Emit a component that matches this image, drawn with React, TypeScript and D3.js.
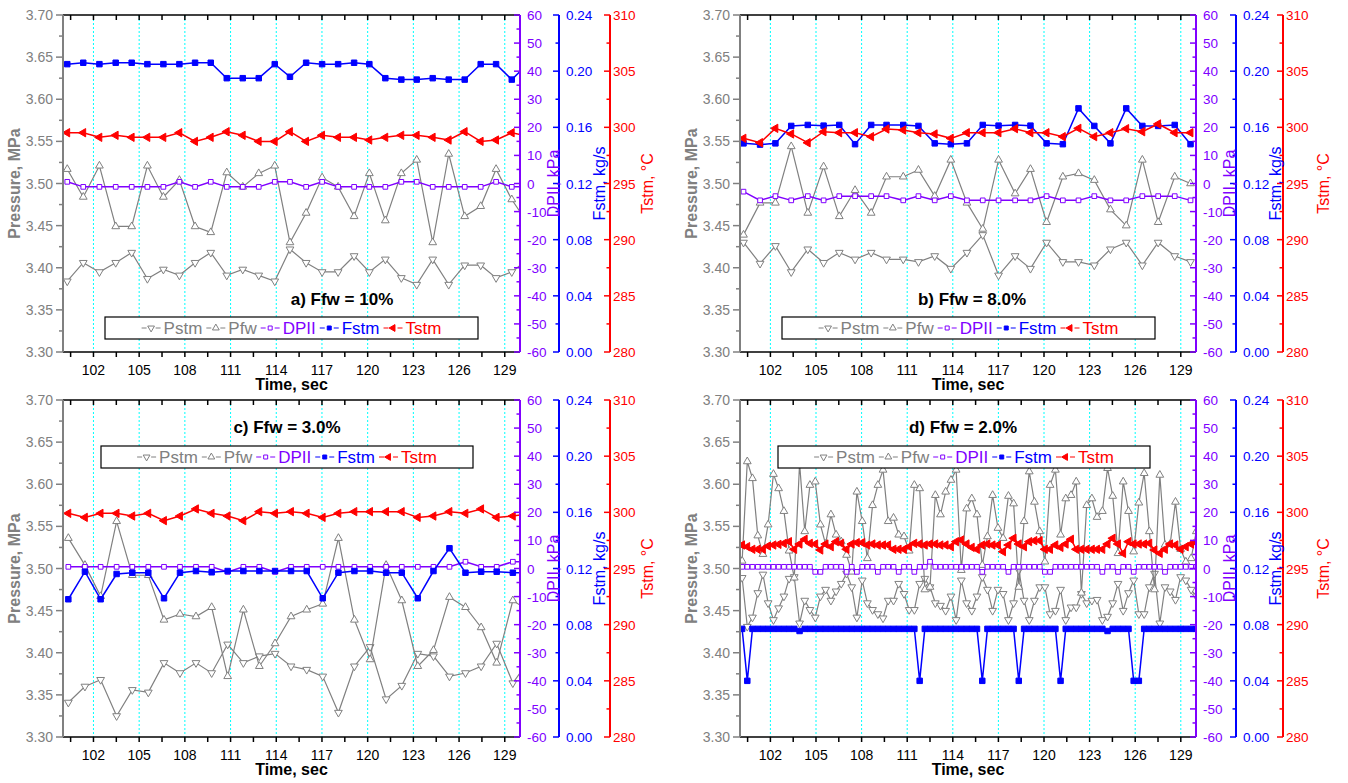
import * as d3 from 'd3';
import React, { useEffect, useRef } from 'react';

// ---- a) Ffw = 10% ----
const timeA = [100.28, 101.33, 102.39, 103.46, 104.51, 105.54, 106.59, 107.64, 108.67, 109.7, 110.75, 111.8, 112.85, 113.9, 114.9, 115.96, 117.01, 118.06, 119.11, 120.11, 121.16, 122.21, 123.22, 124.27, 125.32, 126.37, 127.42, 128.43, 129.46, 130.5];
const pstmA = [3.384, 3.406, 3.395, 3.406, 3.418, 3.387, 3.398, 3.391, 3.406, 3.418, 3.391, 3.398, 3.391, 3.384, 3.422, 3.406, 3.395, 3.395, 3.414, 3.395, 3.41, 3.388, 3.38, 3.41, 3.38, 3.403, 3.403, 3.388, 3.395, 3.41];
const pfwA = [3.517, 3.484, 3.521, 3.449, 3.449, 3.521, 3.484, 3.504, 3.449, 3.442, 3.513, 3.496, 3.512, 3.521, 3.43, 3.465, 3.507, 3.496, 3.461, 3.512, 3.456, 3.512, 3.528, 3.43, 3.535, 3.461, 3.473, 3.517, 3.481, 3.453];
const dpiiA = [0.6, -1.2, -1.2, -1.2, -1.2, -1.2, -1.2, 0.6, -1.2, 0.6, -1.2, -1.2, -1.2, 0.6, 0.6, -1.2, 0.6, -1.2, -1.2, -1.2, -1.2, 0.6, 0.6, -1.2, -1.2, -1.2, -1.2, 0.6, -1.2, -1.2];
const fstmA = [0.205, 0.206, 0.205, 0.206, 0.206, 0.205, 0.205, 0.205, 0.206, 0.206, 0.195, 0.195, 0.195, 0.205, 0.196, 0.206, 0.205, 0.205, 0.206, 0.205, 0.195, 0.194, 0.194, 0.195, 0.194, 0.194, 0.205, 0.205, 0.194, 0.205];
const tstmA = [299.52, 299.52, 299.11, 299.29, 299.11, 299.11, 299.11, 299.52, 298.75, 299.11, 299.61, 299.29, 298.75, 298.75, 299.61, 298.75, 299.29, 299.11, 299.11, 298.87, 299.11, 299.29, 299.29, 299.11, 298.87, 299.61, 298.75, 298.87, 299.52, 299.2];

// ---- b) Ffw = 8.0% ----
const timeB = [100.23, 101.32, 102.33, 103.37, 104.46, 105.5, 106.53, 107.57, 108.63, 109.64, 110.74, 111.74, 112.81, 113.87, 114.93, 115.97, 117.01, 118.1, 119.11, 120.17, 121.24, 122.27, 123.31, 124.37, 125.41, 126.47, 127.51, 128.6, 129.64];
const pstmB = [3.43, 3.405, 3.426, 3.395, 3.422, 3.406, 3.418, 3.41, 3.418, 3.41, 3.41, 3.407, 3.414, 3.399, 3.418, 3.439, 3.391, 3.414, 3.399, 3.43, 3.407, 3.407, 3.403, 3.422, 3.43, 3.403, 3.43, 3.414, 3.407];
const pfwB = [3.439, 3.477, 3.477, 3.544, 3.465, 3.52, 3.461, 3.492, 3.465, 3.508, 3.508, 3.516, 3.485, 3.528, 3.477, 3.446, 3.528, 3.488, 3.517, 3.454, 3.508, 3.512, 3.504, 3.469, 3.45, 3.528, 3.454, 3.508, 3.5];
const dpiiB = [-2.9, -6.0, -4.5, -6.0, -4.5, -6.0, -4.5, -4.5, -4.5, -4.5, -6.0, -4.5, -6.0, -4.5, -6.0, -6.0, -6.0, -6.0, -6.0, -4.5, -6.0, -6.0, -4.5, -6.0, -6.0, -4.5, -4.5, -4.5, -6.0];
const fstmB = [0.1486, 0.1477, 0.1486, 0.161, 0.1617, 0.1612, 0.1617, 0.148, 0.1617, 0.1617, 0.1617, 0.161, 0.1486, 0.148, 0.1486, 0.1617, 0.1612, 0.1617, 0.1612, 0.1486, 0.148, 0.1735, 0.161, 0.1486, 0.1735, 0.161, 0.161, 0.1617, 0.148];
const tstmB = [299.02, 298.63, 299.91, 299.41, 298.63, 299.61, 299.52, 299.52, 299.17, 299.85, 299.76, 299.52, 299.41, 299.02, 299.52, 299.52, 299.52, 299.88, 299.52, 299.52, 299.17, 299.91, 299.17, 299.52, 299.88, 299.61, 300.3, 299.52, 299.52];

// ---- c) Ffw = 3.0% ----
const timeC = [100.35, 101.44, 102.47, 103.52, 104.55, 105.6, 106.63, 107.68, 108.73, 109.76, 110.81, 111.84, 112.89, 113.92, 114.97, 116.0, 117.05, 118.08, 119.13, 120.16, 121.21, 122.24, 123.29, 124.32, 125.37, 126.42, 127.45, 128.47, 129.53, 130.56];
const pstmC = [3.341, 3.36, 3.368, 3.325, 3.356, 3.353, 3.388, 3.376, 3.388, 3.376, 3.41, 3.388, 3.396, 3.399, 3.384, 3.38, 3.372, 3.329, 3.384, 3.407, 3.345, 3.361, 3.399, 3.396, 3.372, 3.376, 3.384, 3.411, 3.364, 3.39];
const pfwC = [3.536, 3.504, 3.467, 3.556, 3.492, 3.492, 3.439, 3.446, 3.443, 3.454, 3.372, 3.451, 3.384, 3.411, 3.443, 3.451, 3.458, 3.536, 3.439, 3.392, 3.504, 3.462, 3.384, 3.403, 3.466, 3.454, 3.43, 3.388, 3.462, 3.45];
const dpiiC = [0.6, 0.6, 0.6, 0.6, 0.6, 0.6, 0.6, 0.6, 0.6, 0.6, -1.2, 0.6, 0.6, -1.2, 0.6, 0.6, 0.6, 0.6, 0.6, 0.6, 0.6, 0.6, 0.6, 0.6, 0.6, 2.4, 0.6, 0.6, 2.4, 2.4];
const fstmC = [0.0981, 0.1177, 0.0981, 0.1161, 0.117, 0.117, 0.0988, 0.117, 0.1182, 0.1173, 0.1182, 0.1182, 0.1182, 0.1182, 0.1182, 0.1182, 0.0988, 0.117, 0.1182, 0.1182, 0.117, 0.117, 0.0988, 0.1182, 0.1344, 0.117, 0.1177, 0.1177, 0.117, 0.117];
const tstmC = [299.91, 299.55, 299.91, 299.91, 299.67, 299.91, 299.26, 299.67, 300.3, 299.91, 299.67, 299.26, 300.06, 299.91, 300.06, 299.91, 299.55, 299.91, 300.06, 300.06, 300.06, 300.06, 299.55, 299.67, 300.06, 299.91, 300.3, 299.55, 299.67, 299.85];

// ---- d) Ffw = 2.0% ----
const timeD = [100.14, 100.48, 100.82, 101.17, 101.51, 101.85, 102.2, 102.54, 102.89, 103.23, 103.57, 103.92, 104.26, 104.6, 104.95, 105.29, 105.63, 105.98, 106.32, 106.66, 107.01, 107.35, 107.69, 108.04, 108.38, 108.72, 109.07, 109.41, 109.75, 110.1, 110.44, 110.79, 111.13, 111.47, 111.82, 112.16, 112.5, 112.85, 113.19, 113.53, 113.88, 114.22, 114.56, 114.91, 115.25, 115.59, 115.94, 116.28, 116.62, 116.97, 117.31, 117.66, 118.0, 118.34, 118.69, 119.03, 119.37, 119.72, 120.06, 120.4, 120.75, 121.09, 121.43, 121.78, 122.12, 122.46, 122.81, 123.15, 123.49, 123.84, 124.18, 124.52, 124.87, 125.21, 125.56, 125.9, 126.24, 126.59, 126.93, 127.27, 127.62, 127.96, 128.3, 128.65, 128.99, 129.33, 129.68, 130.02];
const pstmD = [3.489, 3.431, 3.442, 3.471, 3.493, 3.459, 3.439, 3.453, 3.467, 3.488, 3.49, 3.435, 3.462, 3.451, 3.442, 3.467, 3.475, 3.462, 3.473, 3.482, 3.494, 3.478, 3.442, 3.486, 3.459, 3.451, 3.446, 3.441, 3.462, 3.462, 3.482, 3.47, 3.451, 3.451, 3.482, 3.488, 3.478, 3.459, 3.456, 3.45, 3.467, 3.439, 3.486, 3.459, 3.45, 3.467, 3.49, 3.475, 3.45, 3.475, 3.47, 3.439, 3.459, 3.498, 3.462, 3.439, 3.462, 3.478, 3.478, 3.446, 3.45, 3.475, 3.439, 3.454, 3.454, 3.47, 3.459, 3.462, 3.463, 3.439, 3.443, 3.459, 3.482, 3.45, 3.471, 3.486, 3.446, 3.446, 3.478, 3.494, 3.435, 3.478, 3.473, 3.463, 3.49, 3.486, 3.475, 3.467];
const pfwD = [3.509, 3.627, 3.607, 3.539, 3.517, 3.552, 3.612, 3.595, 3.568, 3.521, 3.489, 3.625, 3.544, 3.599, 3.603, 3.552, 3.529, 3.564, 3.54, 3.532, 3.516, 3.496, 3.591, 3.556, 3.512, 3.575, 3.599, 3.617, 3.556, 3.56, 3.54, 3.538, 3.521, 3.599, 3.595, 3.475, 3.478, 3.587, 3.564, 3.591, 3.605, 3.617, 3.498, 3.571, 3.583, 3.564, 3.504, 3.538, 3.587, 3.548, 3.536, 3.586, 3.577, 3.478, 3.556, 3.615, 3.579, 3.544, 3.508, 3.599, 3.617, 3.54, 3.583, 3.587, 3.603, 3.471, 3.575, 3.583, 3.561, 3.568, 3.619, 3.586, 3.518, 3.603, 3.568, 3.52, 3.578, 3.613, 3.544, 3.475, 3.611, 3.528, 3.529, 3.579, 3.523, 3.508, 3.512, 3.544];
const dpiiD = [0.6, 0.6, 0.6, 0.6, 0.6, 0.6, 0.6, 0.6, 0.6, 0.6, 0.6, 0.6, 0.6, 0.6, -1.2, -1.2, 0.6, 0.6, 0.6, 0.6, -1.2, 0.6, -1.2, 0.6, 0.6, 0.6, -1.2, 0.6, 0.6, 0.6, -1.2, 0.6, 0.6, -1.2, 0.6, 0.6, 2.4, 0.6, 0.6, 0.6, 0.6, 0.6, 0.6, 0.6, 0.6, 0.6, -1.2, 0.6, 0.6, 0.6, 0.6, -1.2, 0.6, 0.6, 0.6, 0.6, 0.6, 0.6, -1.2, -1.2, 0.6, 0.6, 0.6, 0.6, 0.6, 0.6, 0.6, 0.6, 0.6, -1.2, 0.6, 0.6, -1.2, 0.6, 0.6, -1.2, 0.6, 0.6, 0.6, 0.6, 0.6, -1.2, 0.6, 0.6, 0.6, 0.6, 0.6, 0.6];
const fstmD = [0.077, 0.04, 0.077, 0.077, 0.077, 0.077, 0.077, 0.077, 0.077, 0.077, 0.077, 0.0755, 0.077, 0.077, 0.077, 0.077, 0.077, 0.077, 0.077, 0.077, 0.077, 0.077, 0.077, 0.077, 0.077, 0.077, 0.077, 0.077, 0.077, 0.077, 0.077, 0.077, 0.077, 0.077, 0.04, 0.077, 0.077, 0.077, 0.077, 0.077, 0.077, 0.077, 0.077, 0.077, 0.077, 0.077, 0.04, 0.077, 0.077, 0.077, 0.077, 0.077, 0.077, 0.04, 0.077, 0.077, 0.077, 0.077, 0.077, 0.077, 0.077, 0.04, 0.077, 0.077, 0.077, 0.077, 0.077, 0.077, 0.077, 0.077, 0.0755, 0.077, 0.077, 0.077, 0.077, 0.04, 0.04, 0.077, 0.077, 0.077, 0.077, 0.077, 0.077, 0.077, 0.077, 0.077, 0.077, 0.077];
const tstmD = [297.09, 296.94, 296.71, 296.71, 296.71, 297.0, 297.09, 297.15, 297.24, 297.39, 296.71, 297.18, 297.6, 297.24, 297.18, 296.65, 297.18, 296.94, 297.39, 297.24, 296.71, 297.18, 297.3, 297.3, 297.09, 297.18, 297.09, 297.09, 297.09, 296.71, 296.71, 296.71, 296.94, 297.24, 297.18, 297.09, 297.18, 297.18, 297.09, 297.09, 296.94, 297.39, 297.54, 297.18, 296.88, 296.71, 297.09, 297.18, 297.09, 297.09, 296.5, 297.09, 297.69, 297.18, 296.94, 297.39, 297.48, 297.48, 296.71, 296.71, 297.09, 296.88, 297.18, 297.6, 296.71, 296.71, 296.71, 296.71, 296.71, 296.71, 297.18, 297.69, 297.18, 296.35, 297.39, 297.18, 297.18, 297.18, 297.24, 296.65, 296.35, 296.71, 297.18, 297.09, 296.71, 296.94, 297.18, 297.3];

const GRAY = '#808080';
const PURPLE = '#8000FF';
const BLUE = '#0000FF';
const RED = '#FF0000';
const CYAN = '#00FFFF';
const FONT = "'Liberation Sans', Arial, sans-serif";

interface Panel {
    left: number; top: number; width: number; blueOff: number; redOff: number;
    title: string; titleX: number; titleY: number;
    legX: number; legY: number; legW: number;
    time: number[]; pstm: number[]; pfw: number[]; dpii: number[]; fstm: number[]; tstm: number[];
}

const panels: Panel[] = [
    { left: 63, top: 15, width: 457, blueOff: 39, redOff: 90, title: 'a) Ffw = 10%', titleX: 342, titleY: 305, legX: 105, legY: 317, legW: 373, time: timeA, pstm: pstmA, pfw: pfwA, dpii: dpiiA, fstm: fstmA, tstm: tstmA },
    { left: 740, top: 15, width: 456, blueOff: 40, redOff: 87, title: 'b) Ffw = 8.0%', titleX: 972, titleY: 305, legX: 782, legY: 317, legW: 373, time: timeB, pstm: pstmB, pfw: pfwB, dpii: dpiiB, fstm: fstmB, tstm: tstmB },
    { left: 63, top: 400, width: 457, blueOff: 39, redOff: 90, title: 'c) Ffw = 3.0%', titleX: 287, titleY: 433, legX: 101, legY: 446, legW: 372, time: timeC, pstm: pstmC, pfw: pfwC, dpii: dpiiC, fstm: fstmC, tstm: tstmC },
    { left: 740, top: 400, width: 456, blueOff: 40, redOff: 87, title: 'd) Ffw = 2.0%', titleX: 963, titleY: 433, legX: 778, legY: 446, legW: 372, time: timeD, pstm: pstmD, pfw: pfwD, dpii: dpiiD, fstm: fstmD, tstm: tstmD },
];

const legendItems = [
    { label: 'Pstm', color: GRAY, kind: 'down', fill: '#fff' },
    { label: 'Pfw', color: GRAY, kind: 'up', fill: '#fff' },
    { label: 'DPII', color: PURPLE, kind: 'square', fill: '#fff' },
    { label: 'Fstm', color: BLUE, kind: 'square', fill: BLUE },
    { label: 'Tstm', color: RED, kind: 'left', fill: RED },
];

const symbolRot: Record<string, number> = { up: 0, down: 180, left: -90, square: 0 };
const symbolPath = (kind: string, size: number) =>
    d3.symbol().type(kind === 'square' ? d3.symbolSquare : d3.symbolTriangle).size(size)() as string;

type G = d3.Selection<SVGGElement, unknown, null, undefined>;

// vertical axis, ticks pointing left of the line
function vAxis(g: G, xPos: number, scale: d3.ScaleLinear<number, number>, majors: number[], minors: number[],
    color: string, fmt: (v: number) => string, labelDx: number, anchor: string, size = 14) {
    const [yb, yt] = scale.range();
    g.append('line').attr('x1', xPos).attr('x2', xPos).attr('y1', yb).attr('y2', yt)
        .attr('stroke', color).attr('stroke-width', 2);
    g.append('g').selectAll('line').data(majors).join('line')
        .attr('x1', xPos).attr('x2', xPos - 6).attr('y1', d => scale(d)).attr('y2', d => scale(d))
        .attr('stroke', color).attr('stroke-width', 1.5);
    g.append('g').selectAll('line').data(minors).join('line')
        .attr('x1', xPos).attr('x2', xPos - 3.5).attr('y1', d => scale(d)).attr('y2', d => scale(d))
        .attr('stroke', color).attr('stroke-width', 1.5);
    g.append('g').selectAll('text').data(majors).join('text')
        .attr('x', xPos + labelDx).attr('y', d => scale(d) + 5).attr('text-anchor', anchor)
        .attr('fill', color).style('font-size', `${size}px`).text(d => fmt(d));
}

function drawPanel(svg: d3.Selection<SVGSVGElement, unknown, null, undefined>, p: Panel, k: number) {
    const H = 337;
    const x0 = p.left, x1 = p.left + p.width, y0 = p.top, y1 = p.top + H;
    const x = d3.scaleLinear().domain([100, 130]).range([x0, x1]);
    const yP = d3.scaleLinear().domain([3.3, 3.7]).range([y1, y0]);
    const yD = d3.scaleLinear().domain([-60, 60]).range([y1, y0]);
    const yF = d3.scaleLinear().domain([0, 0.24]).range([y1, y0]);
    const yT = d3.scaleLinear().domain([280, 310]).range([y1, y0]);
    const g = svg.append('g');

    g.append('clipPath').attr('id', `clip${k}`).append('rect')
        .attr('x', x0).attr('y', y0).attr('width', p.width).attr('height', H);

    // dotted cyan grid at labelled times
    const majors = d3.range(102, 130, 3);
    g.append('g').selectAll('line').data(majors).join('line')
        .attr('x1', d => x(d)).attr('x2', d => x(d)).attr('y1', y0).attr('y2', y1)
        .attr('stroke', CYAN).attr('stroke-width', 1).attr('stroke-dasharray', '2,2');

    const series = [
        { v: p.pstm, y: yP, color: GRAY, kind: 'down', fill: '#fff', size: 26, lw: 1.2 },
        { v: p.pfw, y: yP, color: GRAY, kind: 'up', fill: '#fff', size: 26, lw: 1.2 },
        { v: p.dpii, y: yD, color: PURPLE, kind: 'square', fill: '#fff', size: 22, lw: 1.5 },
        { v: p.fstm, y: yF, color: BLUE, kind: 'square', fill: BLUE, size: 30, lw: 1.5 },
        { v: p.tstm, y: yT, color: RED, kind: 'left', fill: RED, size: 30, lw: 1.5 },
    ];
    const plot = g.append('g').attr('clip-path', `url(#clip${k})`);
    series.forEach(s => {
        const pts = s.v.map((val, i) => [x(p.time[i]), s.y(val)] as [number, number]);
        plot.append('path').attr('d', d3.line()(pts)).attr('fill', 'none')
            .attr('stroke', s.color).attr('stroke-width', s.lw);
        plot.append('g').selectAll('path').data(pts).join('path')
            .attr('d', symbolPath(s.kind, s.size))
            .attr('transform', d => `translate(${d[0]},${d[1]}) rotate(${symbolRot[s.kind]})`)
            .attr('fill', s.fill).attr('stroke', s.color).attr('stroke-width', 1);
    });

    // top and bottom frame, ticks every 1.5 s
    const xt = d3.range(100.5, 130, 1.5);
    g.append('line').attr('x1', x0).attr('x2', x1).attr('y1', y0).attr('y2', y0).attr('stroke', '#000').attr('stroke-width', 1.5);
    g.append('line').attr('x1', x0).attr('x2', x1).attr('y1', y1).attr('y2', y1).attr('stroke', '#000').attr('stroke-width', 1.5);
    g.append('g').selectAll('line').data(xt).join('line')
        .attr('x1', d => x(d)).attr('x2', d => x(d)).attr('y1', y0).attr('y2', y0 + 5)
        .attr('stroke', '#000').attr('stroke-width', 1.5);
    g.append('g').selectAll('line').data(xt).join('line')
        .attr('x1', d => x(d)).attr('x2', d => x(d)).attr('y1', y1).attr('y2', y1 + 5)
        .attr('stroke', '#000').attr('stroke-width', 1.5);
    g.append('g').selectAll('text').data(majors).join('text')
        .attr('x', d => x(d)).attr('y', y1 + 23).attr('text-anchor', 'middle')
        .style('font-size', '14px').text(d => String(d));
    g.append('text').attr('x', (x0 + x1) / 2).attr('y', y1 + 38).attr('text-anchor', 'middle')
        .style('font-size', '16px').style('font-weight', 'bold').text('Time, sec');

    // left pressure axis, ticks outward
    const pMaj = d3.range(0, 9).map(i => 3.3 + i * 0.05);
    const pMin = d3.range(0, 8).map(i => 3.325 + i * 0.05);
    const la = g.append('g');
    la.append('line').attr('x1', x0).attr('x2', x0).attr('y1', y1).attr('y2', y0).attr('stroke', GRAY).attr('stroke-width', 2);
    la.append('g').selectAll('line').data(pMaj).join('line')
        .attr('x1', x0).attr('x2', x0 - 7).attr('y1', d => yP(d)).attr('y2', d => yP(d)).attr('stroke', GRAY).attr('stroke-width', 1.5);
    la.append('g').selectAll('line').data(pMin).join('line')
        .attr('x1', x0).attr('x2', x0 - 4).attr('y1', d => yP(d)).attr('y2', d => yP(d)).attr('stroke', GRAY).attr('stroke-width', 1.5);
    la.append('g').selectAll('text').data(pMaj).join('text')
        .attr('x', x0 - 10).attr('y', d => yP(d) + 5).attr('text-anchor', 'end').attr('fill', GRAY)
        .style('font-size', '14px').text(d => d.toFixed(2));
    la.append('text').attr('transform', `translate(${x0 - 49},${(y0 + y1) / 2}) rotate(-90)`)
        .attr('text-anchor', 'middle').attr('dominant-baseline', 'central').attr('fill', GRAY)
        .style('font-size', '16px').style('font-weight', 'bold').text('Pressure, MPa');

    // right axes
    vAxis(g, x1, yD, d3.range(-60, 61, 10), d3.range(-55, 60, 10), PURPLE, d => String(d), 7, 'start', 13.5);
    vAxis(g, x1 + p.blueOff, yF, d3.range(0, 7).map(i => i * 0.04), d3.range(0, 6).map(i => 0.02 + i * 0.04), BLUE, d => d.toFixed(2), 7, 'start', 13.5);
    vAxis(g, x1 + p.redOff, yT, d3.range(280, 311, 5), d3.range(282.5, 310, 5), RED, d => String(d), 3, 'start', 13.5);
    const yc = (y0 + y1) / 2;
    [
        { dx: 33, text: 'DPII, kPa', color: PURPLE },
        { dx: 79, text: 'Fstm, kg/s', color: BLUE },
        { dx: 127, text: 'Tstm, \u00B0C', color: RED },
    ].forEach(t => {
        g.append('text').attr('transform', `translate(${x1 + t.dx},${yc}) rotate(-90)`)
            .attr('text-anchor', 'middle').attr('dominant-baseline', 'central').attr('fill', t.color)
            .style('font-size', '16px').text(t.text);
    });

    // title
    g.append('text').attr('x', p.titleX).attr('y', p.titleY).attr('text-anchor', 'middle')
        .style('font-size', '17px').style('font-weight', 'bold').text(p.title);

    // legend box, drawn over the data
    const lg = g.append('g');
    lg.append('rect').attr('x', p.legX).attr('y', p.legY).attr('width', p.legW).attr('height', 22)
        .attr('fill', '#fff').attr('stroke', '#000').attr('stroke-width', 1.2);
    const inner = lg.append('g');
    let cx = 0;
    const cy = p.legY + 11;
    legendItems.forEach((it, i) => {
        inner.append('line').attr('x1', cx).attr('x2', cx + 5).attr('y1', cy).attr('y2', cy).attr('stroke', it.color).attr('stroke-width', 1);
        inner.append('line').attr('x1', cx + 14).attr('x2', cx + 19).attr('y1', cy).attr('y2', cy).attr('stroke', it.color).attr('stroke-width', 1);
        inner.append('path').attr('d', symbolPath(it.kind, it.kind === 'square' ? 16 : 20))
            .attr('transform', `translate(${cx + 9.5},${cy}) rotate(${symbolRot[it.kind]})`)
            .attr('fill', it.fill).attr('stroke', it.color).attr('stroke-width', 1);
        const t = inner.append('text').attr('x', cx + 22).attr('y', cy + 6).attr('fill', it.color)
            .style('font-size', '17px').text(it.label);
        const w = (t.node() as SVGTextElement).getComputedTextLength();
        cx += 22 + w + (i < legendItems.length - 1 ? 4 : 0);
    });
    inner.attr('transform', `translate(${p.legX + (p.legW - cx) / 2},0)`);
}

const App: React.FC = () => {
    const ref = useRef<SVGSVGElement | null>(null);

    useEffect(() => {
        const svg = d3.select(ref.current as SVGSVGElement);
        svg.selectAll('*').remove();
        svg.append('rect').attr('width', 1348).attr('height', 783).attr('fill', '#fff');
        panels.forEach((p, k) => drawPanel(svg, p, k));
    }, []);

    return (
        <svg ref={ref} width={1348} height={783}
            style={{ position: 'absolute', left: 0, top: 0, fontFamily: FONT }} />
    );
};

export default App;
